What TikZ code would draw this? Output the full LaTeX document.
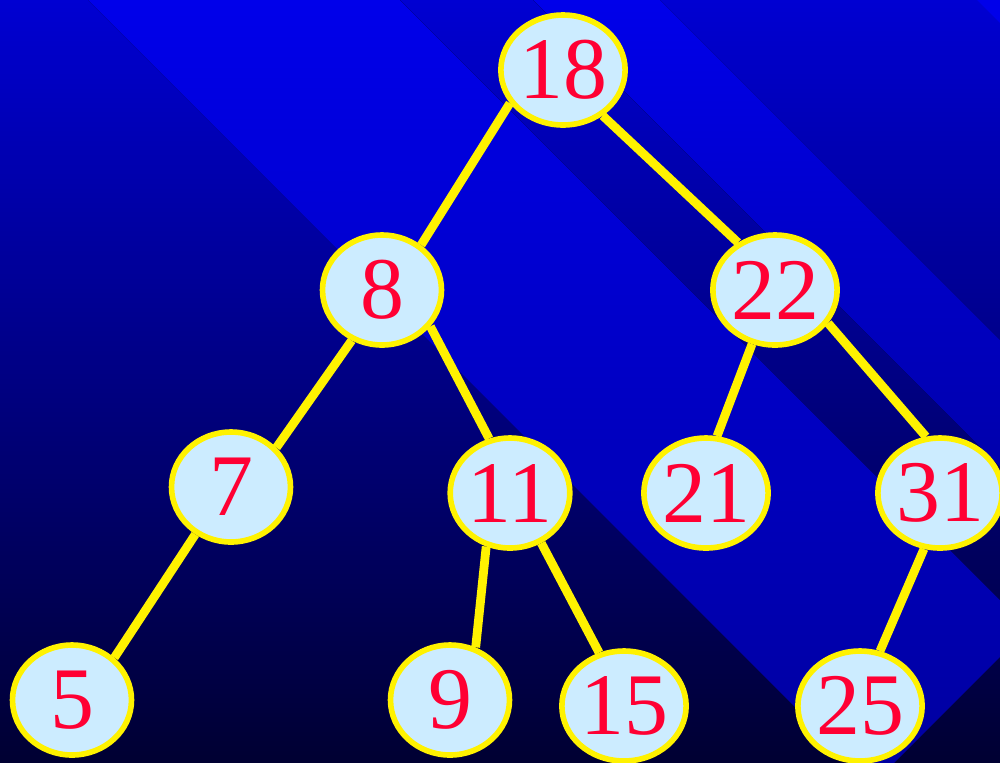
\documentclass[tikz,border=0pt]{standalone}
\usepackage{fontspec}
\setmainfont{Liberation Serif}
\usepackage{tikz}
\usetikzlibrary{shapes, positioning, calc, backgrounds}

\definecolor{keyred}{RGB}{255,0,51}
\definecolor{keyfill}{RGB}{204,236,255}
\definecolor{bgtop}{RGB}{0,0,210}
\definecolor{bgbottom}{RGB}{0,0,50}
\definecolor{bandtop}{RGB}{0,0,234}
\definecolor{bandbottom}{RGB}{0,0,158}

\begin{document}
\begin{tikzpicture}[x=0.02cm, y=-0.02cm,
    keynode/.style={ellipse, draw=yellow, line width=3.2pt, fill=keyfill,
        text=keyred, minimum width=2.38cm, minimum height=2.2cm, inner sep=0pt,
        font=\fontsize{50}{50}\selectfont},
    branch/.style={draw=yellow, line width=5pt}]
        % Background: gradient with diagonal bands
        \useasboundingbox (0,0) rectangle (1000,762);
        \begin{scope}[on background layer]
            \clip (0,0) rectangle (1000,762);
            \fill[top color=bgtop, bottom color=bgbottom] (0,0) rectangle (1000,762);
            \fill[top color=bandtop, bottom color=bandbottom]
                (88,0) -- (400,0) -- (1028.5,628.5) -- (872.5,784.5) -- cycle;
            \fill[top color=bandtop, bottom color=bandbottom]
                (533,0) -- (660,0) -- (1100,440) -- (1100,567) -- cycle;
            \fill[bandtop] (977,0) -- (1100,0) -- (1100,123) -- cycle;
        \end{scope}

        % Draw the keys
        \foreach \k/\x/\y in {18/563/70, 8/382/290, 22/775/290,
                              7/231/487, 11/510/493, 21/706/493, 31/940/493,
                              5/72/700, 9/450/700, 15/624/706, 25/860/706} {
            \node[keynode] (n\k) at (\x,\y) {\k};
        }

        % Draw the branches (parent/angle/child/angle)
        \begin{scope}[on background layer]
            \foreach \p/\pa/\c/\ca in {18/212/8/49, 18/311/22/128,
                                       8/239/7/41, 8/323/11/111,
                                       22/247/21/79, 22/328/31/104,
                                       7/233/5/45, 11/246/9/64,
                                       11/302/15/115, 31/254/25/70} {
                \draw[branch] (n\p.\pa) -- (n\c.\ca);
            }
        \end{scope}
    \end{tikzpicture}
\end{document}
